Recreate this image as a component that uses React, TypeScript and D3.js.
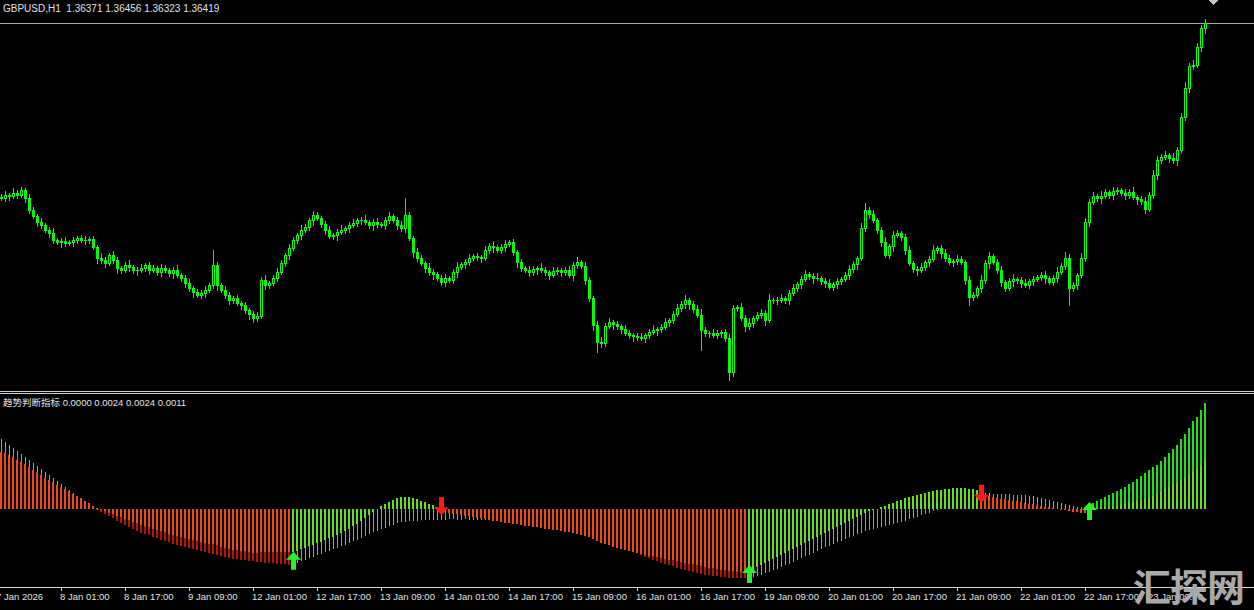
import React from "react";
import * as d3 from "d3";

const W = 1254;
const H = 610;

// ---------- price data (GBPUSD H1) ----------
const firstOpen = 1.3468;
const closes = [
  1.3467,1.3470,1.3469,1.3472,1.3470,1.3475,1.3467,1.3455,1.3449,1.3443,
  1.3440,1.3435,1.3432,1.3425,1.3423,1.3424,1.3422,1.3423,1.3425,1.3427,
  1.3425,1.3425,1.3426,1.3418,1.3407,1.3405,1.3402,1.3410,1.3405,1.3397,
  1.3395,1.3400,1.3398,1.3395,1.3395,1.3397,1.3400,1.3395,1.3397,1.3393,
  1.3397,1.3395,1.3392,1.3395,1.3390,1.3387,1.3382,1.3377,1.3373,1.3370,
  1.3372,1.3375,1.3380,1.3400,1.3380,1.3375,1.3370,1.3365,1.3367,1.3362,
  1.3360,1.3355,1.3351,1.3347,1.3349,1.3385,1.3380,1.3382,1.3387,1.3393,
  1.3402,1.3410,1.3417,1.3425,1.3430,1.3435,1.3438,1.3445,1.3450,1.3447,
  1.3441,1.3435,1.3429,1.3430,1.3433,1.3435,1.3437,1.3440,1.3442,1.3445,
  1.3445,1.3443,1.3440,1.3443,1.3441,1.3440,1.3445,1.3449,1.3445,1.3440,
  1.3437,1.3450,1.3427,1.3413,1.3407,1.3402,1.3397,1.3393,1.3391,1.3387,
  1.3383,1.3387,1.3385,1.3393,1.3398,1.3401,1.3403,1.3407,1.3409,1.3408,
  1.3407,1.3415,1.3419,1.3418,1.3415,1.3418,1.3421,1.3423,1.3413,1.3403,
  1.3397,1.3395,1.3393,1.3396,1.3397,1.3395,1.3393,1.3390,1.3394,1.3395,
  1.3393,1.3395,1.3390,1.3400,1.3403,1.3399,1.3385,1.3367,1.3340,1.3323,
  1.3322,1.3339,1.3343,1.3341,1.3339,1.3336,1.3332,1.3330,1.3329,1.3328,
  1.3327,1.3330,1.3333,1.3335,1.3336,1.3338,1.3343,1.3345,1.3351,1.3357,
  1.3361,1.3365,1.3361,1.3356,1.3350,1.3335,1.3332,1.3332,1.3330,1.3332,
  1.3333,1.3327,1.3293,1.3357,1.3358,1.3347,1.3339,1.3342,1.3347,1.3350,
  1.3352,1.3345,1.3365,1.3365,1.3365,1.3367,1.3365,1.3372,1.3377,1.3381,
  1.3386,1.3391,1.3389,1.3387,1.3387,1.3384,1.3382,1.3378,1.3381,1.3384,
  1.3386,1.3390,1.3396,1.3401,1.3407,1.3437,1.3455,1.3451,1.3445,1.3435,
  1.3423,1.3410,1.3419,1.3430,1.3432,1.3428,1.3415,1.3402,1.3396,1.3395,
  1.3398,1.3403,1.3406,1.3415,1.3417,1.3412,1.3407,1.3403,1.3404,1.3406,
  1.3403,1.3385,1.3368,1.3370,1.3377,1.3385,1.3402,1.3409,1.3403,1.3395,
  1.3383,1.3377,1.3384,1.3386,1.3385,1.3382,1.3380,1.3384,1.3386,1.3388,
  1.3390,1.3387,1.3383,1.3387,1.3393,1.3399,1.3407,1.3377,1.3380,1.3390,
  1.3407,1.3443,1.3463,1.3469,1.3467,1.3469,1.3473,1.3470,1.3474,1.3475,
  1.3472,1.3470,1.3473,1.3468,1.3466,1.3464,1.3456,1.3470,1.3490,1.3505,
  1.3508,1.3510,1.3507,1.3505,1.3515,1.3548,1.3577,1.3599,1.3600,1.3618,
  1.36371,1.36419,
];
// wick lengths in pips beyond the candle body
const upperWickPips = [
  3,4,2,5,3,3,2,4,3,2, 4,2,3,5,2,3,4,2,3,2, 3,4,2,3,2,5,3,2,4,3, 2,3,5,2,3,4,2,3,3,2,
  4,3,2,3,5,2,3,4,2,3, 3,4,2,15,3,2,4,3,2,3, 2,3,2,3,4,3,5,2,3,4, 3,2,4,3,2,5,3,2,4,3,
  2,3,4,2,3,5,2,3,4,2, 3,5,2,3,4,2,3,4,2,3, 4,17,3,2,4,3,2,5,3,2, 3,4,2,3,5,2,3,4,2,3,
  2,4,3,5,2,3,4,2,3,2, 3,2,4,3,2,5,3,2,4,3, 2,3,4,3,5,2,4,3,2,4, 5,3,4,2,3,2,4,3,2,3,
  4,2,3,5,2,3,4,2,3,4, 3,5,2,3,4,6,3,2,4,3, 2,3,4,3,2,4,3,5,2,3, 4,3,6,2,3,4,2,3,4,2,
  3,4,2,3,5,2,3,4,2,3, 2,3,4,3,2,5,7,3,4,2, 3,5,2,4,3,2,3,4,2,3, 4,2,3,5,2,3,4,3,2,4,
  3,2,4,3,2,5,3,4,2,3, 4,2,3,5,2,3,4,2,3,2, 3,4,2,3,5,3,6,4,3,2, 5,4,3,4,2,5,3,2,4,3,
  2,4,3,5,2,3,4,3,5,4, 3,4,2,5,3,4,6,3,5,4, 3,3.7,
];
const lowerWickPips = [
  2,3,4,2,3,2,4,3,2,4, 3,2,4,3,2,5,3,2,4,3, 2,4,3,2,5,3,4,2,3,5, 3,2,4,3,5,2,3,4,2,3,
  4,2,3,5,2,3,4,3,5,2, 3,4,2,3,5,2,3,4,3,2, 4,3,5,4,3,2,4,3,2,3, 2,3,4,2,3,4,2,3,5,2,
  3,4,2,3,5,2,3,4,2,3, 4,2,3,5,3,2,4,3,2,4, 3,4,2,5,3,2,4,3,5,2, 3,4,2,3,5,2,4,3,2,3,
  4,2,3,5,2,3,4,2,3,5, 3,2,4,3,5,2,3,4,2,3, 4,3,2,5,3,2,4,3,5,10, 4,3,2,5,3,4,2,3,5,3,
  2,4,3,2,5,3,2,4,3,2, 3,4,5,3,2,20,3,4,2,3, 4,3,8,4,3,2,5,3,4,2, 3,5,2,3,4,2,3,4,2,3,
  4,2,3,5,2,3,4,2,3,4, 3,2,4,3,5,2,3,4,2,3, 4,2,3,5,2,3,4,2,3,5, 2,3,4,2,3,5,3,2,4,3,
  2,4,8,3,2,4,3,5,2,3, 4,3,2,5,3,4,2,3,4,2, 3,5,2,3,4,2,3,17,3,4, 2,3,4,2,3,5,2,3,4,3,
  2,4,3,2,5,3,4,2,3,4, 3,2,4,3,5,2,3,4,3,2, 4,4.8,
];

// ---------- indicator data (in points, 0.00001) ----------
const signalPts = [
  129,127,122,118,111,106,102,95,88,84,77,70,66,61,54,50,45,41,34,29,25,18,14,7,2,
  -2,-5,-9,-11,-16,-18,-23,-25,-29,-32,-36,-38,-41,-45,-48,-50,-52,-57,-59,-61,-63,-66,-68,-70,-72,-75,-77,-79,-79,-82,-86,-88,-91,-93,-93,-95,-95,-97,-100,-100,-97,-97,-97,-97,-97,-97,-97,-97,
  -97,-95,-91,-88,-84,-82,-77,-75,-70,-66,-63,-59,-54,-50,-45,-38,-34,-27,-20,-14,-7,0,7,11,16,20,25,27,27,27,25,23,18,16,11,9,5,
  -2,-5,-9,-11,-11,-14,-16,-16,-18,-20, -20,-23,-25,-27,-27,-29,-32,-32,-34,-34, -36,-38,-38,-41,-41,-43,-45,-45,-48,-48,
  -50,-52,-52,-54,-57,-59,-61,-63,-68,-72, -77,-79,-82,-86,-88,-91,-93,-95,-97,-100, -102,-104,-106,-106,-109,-111,-113,-115,-115,-118,
  -120,-122,-125,-125,-127,-129,-131,-134,-134,-136, -138,-138,-140,-140,-143,-143,-143,
  -140,-136,-131,-127,-122,-118,-113,-109,-104,-100, -95,-91,-86,-82,-77,-72,-68,-63,-59,-54, -50,-45,-41,-36,-32,-27,-23,-18,-14,-9,
  -5,-2,0,5,7,11,14,18,20,25, 27,29,32,34,36,38,41,43,43,45, 45,48,48,48,48,45,45,43,
  32,29,29,27,25,23,23,20,18,18,16,14,11,11,9,7,5,5,2,0,-2,-2,-5,-7,-7,-9,-9,
  -7,-2,0,2,5,5,7,9,9,11,14,16,18,20,23,25,29,34,38,45,50,54,59,66,70,77,84,91,100,111,
];
const mainPts = [
  158,152,145,138,131,125,118,111,104,97,91,84,77,70,63,57,50,43,36,29,23,16,9,5,-2,
  -7,-11,-16,-20,-27,-32,-36,-41,-45,-50, -54,-57,-59,-63,-66,-70,-72,-75,-79,-82, -84,-86,-88,-91,-93,-95,-97,-100,-102,-104,
  -106,-109,-111,-113,-113,-115,-115,-118,-118,-120, -120,-122,-122,-122,-125,-125,-125,-127,
  -125,-122,-118,-115,-111,-109,-104,-102,-97,-95, -91,-88,-84,-82,-77,-72,-70,-66,-61,-57, -52,-50,-45,-43,-38,-36,-32,-29,-29,-27, -27,-27,-25,-25,-25,-25,-25,
  -25,-25,-23,-23,-25,-25,-23,-25,-25,-25, -25,-25,-25,-25,-27,-27,-27,-27,-27,-27, -27,-29,-29,-29,-32,-32,-32,-34,-34,-36,
  -36,-38,-41,-43,-43,-45,-50,-52,-57,-61, -63,-68,-72,-77,-79,-84,-88,-93,-97,-100, -104,-109,-111,-115,-118,-122,-125,-127,-129,-134,
  -136,-138,-140,-143,-145,-147,-149,-149,-152,-152, -154,-154,-156,-156,-156,-156,-156,
  -156,-154,-152,-149,-145,-143,-138,-136,-131,-127, -125,-120,-115,-111,-106,-104,-100,-95,-91,-86, -84,-79,-75,-72,-68,-63,-61,-57,-54,-50,
  -48,-45,-43,-41,-38,-36,-34,-32,-29,-27, -23,-20,-18,-14,-11,-9,-5,-2,0,5, 9,14,18,23,27,29,34,36,
  36,36,36,34,34,34,34,34,32,32,32,32,29,29,27,25,23,20,18,16,14,11,9,7,5,5,2,
  9,14,18,23,27,32,36,41,45,50,57,61,68,75,82,88,95,100,109,118,127,136,145,158,170,183,199,208,224,240,
];
// bar ranges where the main histogram is fading back toward zero
const fadeRanges: [number, number][] = [[0, 24], [73, 139], [187, 235], [245, 271]];
const upArrowBars = [73, 187, 272];
const upArrowValues = [-0.00097, -0.00127, 0.00016];
const downArrowBars = [110, 245];
const downArrowValues = [-0.00014, 0.00014];

// ---------- time axis ----------
const tickBars = [-1, 15, 31, 47, 63, 79, 95, 111, 127, 143, 159, 175, 191, 207, 223, 239, 255, 271, 287];
const tickLabels = [
  "7 Jan 2026", "8 Jan 01:00", "8 Jan 17:00", "9 Jan 09:00", "12 Jan 01:00", "12 Jan 17:00",
  "13 Jan 09:00", "14 Jan 01:00", "14 Jan 17:00", "15 Jan 09:00", "16 Jan 01:00", "16 Jan 17:00",
  "19 Jan 09:00", "20 Jan 01:00", "20 Jan 17:00", "21 Jan 09:00", "22 Jan 01:00", "22 Jan 17:00", "23 Jan 09:00",
];

const CANDLE = "#00ff00";
const S_UP = "#66dd1e";
const S_DN = "#f04a1c";
const M_UP = "#1ee01e";
const M_DN = "#b8140a";
const M_FADE = "#e0845a";
const TXT = "#e2e2e2";
const LATIN = "'Liberation Sans', Arial, sans-serif";
const CJK = "'Noto Sans CJK SC', sans-serif";

export default function App() {
  const n = closes.length;
  const x = d3.scaleLinear().domain([0, n - 1]).range([1, 1205]);
  const yP = d3.scaleLinear().domain([1.3285, 1.3665]).range([380, 0]);
  const yI = d3.scaleLinear().domain([0, 0.0024]).range([509, 403]);

  const opens = closes.map((c, i) => (i === 0 ? firstOpen : closes[i - 1]));
  const highs = closes.map((c, i) => Math.max(opens[i], c) + upperWickPips[i] * 0.0001);
  const lows = closes.map((c, i) => Math.min(opens[i], c) - lowerWickPips[i] * 0.0001);
  const S = signalPts.map((v) => v / 1e5);
  const M = mainPts.map((v) => v / 1e5);

  const arrows = [
    ...upArrowBars.map((b, k) => ({ b, v: upArrowValues[k], up: true })),
    ...downArrowBars.map((b, k) => ({ b, v: downArrowValues[k], up: false })),
  ].sort((a, b) => a.b - b.b);
  const trendUp = (i: number) => {
    let up = false;
    for (const a of arrows) if (a.b <= i) up = a.up;
    return up;
  };
  const isFade = (i: number) => fadeRanges.some(([a, b]) => i >= a && i <= b);

  const last = n - 1;
  const header = `GBPUSD,H1  ${opens[last].toFixed(5)} ${highs[last].toFixed(5)} ${lows[last].toFixed(5)} ${closes[last].toFixed(5)}`;
  const lastUp = trendUp(last);
  const indHeader = ` ${(lastUp ? 0 : M[last]).toFixed(4)} ${(lastUp ? M[last] : 0).toFixed(4)} ${M[last].toFixed(4)} ${S[last].toFixed(4)}`;

  const zeroY = Math.round(yI(0));
  const priceLineY = Math.round(yP(closes[last])) + 0.5;

  const arrowPath = (cx: number, tip: number, up: boolean) => {
    const s = up ? 1 : -1;
    const pts = [
      [cx, tip], [cx + 7.5, tip + 8 * s], [cx + 2.5, tip + 8 * s], [cx + 2.5, tip + 18 * s],
      [cx - 2.5, tip + 18 * s], [cx - 2.5, tip + 8 * s], [cx - 7.5, tip + 8 * s],
    ];
    return d3.line()(pts as [number, number][]) + "Z";
  };

  return (
    <div style={{ position: "fixed", left: 0, top: 0, width: W, height: H, background: "#000" }}>
      <svg width={W} height={H} style={{ display: "block", background: "#000" }}>
        {/* main pane */}
        <g shapeRendering="crispEdges">
          <line x1={0} x2={W} y1={priceLineY} y2={priceLineY} stroke="#a8a8a8" />
          {closes.map((c, i) => {
            const o = opens[i];
            const cx = Math.round(x(i));
            const yh = Math.round(yP(highs[i]));
            const yl = Math.round(yP(lows[i]));
            const yt = Math.round(yP(Math.max(o, c)));
            const yb = Math.round(yP(Math.min(o, c)));
            const bull = c >= o;
            const hgt = yb - yt;
            return (
              <g key={i}>
                <line x1={cx + 0.5} x2={cx + 0.5} y1={yh} y2={yl + 1} stroke={CANDLE} />
                {hgt < 1 ? (
                  <line x1={cx - 1} x2={cx + 2} y1={yt + 0.5} y2={yt + 0.5} stroke={CANDLE} />
                ) : bull ? (
                  <rect x={cx - 0.5} y={yt + 0.5} width={2} height={hgt} fill="#000" stroke={CANDLE} />
                ) : (
                  <rect x={cx - 1} y={yt} width={3} height={hgt + 1} fill={CANDLE} />
                )}
              </g>
            );
          })}
          <polygon points="1208,0 1218,0 1213,5" fill="#c4c4c4" />
        </g>
        <text x={3} y={12} fill={TXT} fontFamily={LATIN} fontSize={10} style={{ whiteSpace: "pre" }}>{header}</text>

        {/* separators */}
        <g shapeRendering="crispEdges">
          <line x1={0} x2={W} y1={391.5} y2={391.5} stroke="#d0d0d0" />
          <line x1={0} x2={W} y1={393.5} y2={393.5} stroke="#d0d0d0" />
        </g>

        {/* indicator pane */}
        <g shapeRendering="crispEdges">
          {M.map((v, i) => {
            const cx = Math.round(x(i));
            const y1 = Math.round(yI(v));
            const h = Math.abs(y1 - zeroY);
            if (h < 1) return null;
            const fade = isFade(i);
            const col = fade ? M_FADE : v >= 0 ? M_UP : M_DN;
            return (
              <rect key={"m" + i} x={fade ? cx : cx - 1} y={Math.min(y1, zeroY)} width={fade ? 1 : 2} height={h} fill={col} />
            );
          })}
          {S.map((v, i) => {
            const cx = Math.round(x(i));
            const y1 = Math.round(yI(v));
            const h = Math.abs(y1 - zeroY);
            if (h < 1) return null;
            return (
              <rect key={"s" + i} x={cx - 1} y={Math.min(y1, zeroY)} width={2} height={h} fill={trendUp(i) ? S_UP : S_DN} />
            );
          })}
        </g>
        {arrows.map((a, k) => (
          <path key={"a" + k} d={arrowPath(Math.round(x(a.b)) + 0.5, yI(a.v), a.up)} fill={a.up ? "#2cf02c" : "#ff1a1a"} />
        ))}
        <text x={3} y={406} fill={TXT} fontSize={9.5} style={{ whiteSpace: "pre" }}>
          <tspan fontFamily={CJK}>趋势判断指标</tspan>
          <tspan fontFamily={LATIN}>{indHeader}</tspan>
        </text>

        {/* time axis */}
        <g shapeRendering="crispEdges">
          <line x1={0} x2={W} y1={587.5} y2={587.5} stroke="#dcdcdc" />
          {tickBars.map((b, k) => (
            <line key={"t" + k} x1={Math.round(x(b)) + 0.5} x2={Math.round(x(b)) + 0.5} y1={587} y2={591} stroke="#dcdcdc" />
          ))}
        </g>
        {tickBars.map((b, k) => (
          <text key={"l" + k} x={Math.round(x(b)) - 1} y={600} fill={TXT} fontFamily={LATIN} fontSize={9.5}>
            {tickLabels[k]}
          </text>
        ))}

        {/* watermark */}
        <text x={1133} y={601} fill="#a9a9a9" fontFamily={CJK} fontWeight={700} fontSize={38} letterSpacing={-1}>
          汇探网
        </text>
      </svg>
    </div>
  );
}
